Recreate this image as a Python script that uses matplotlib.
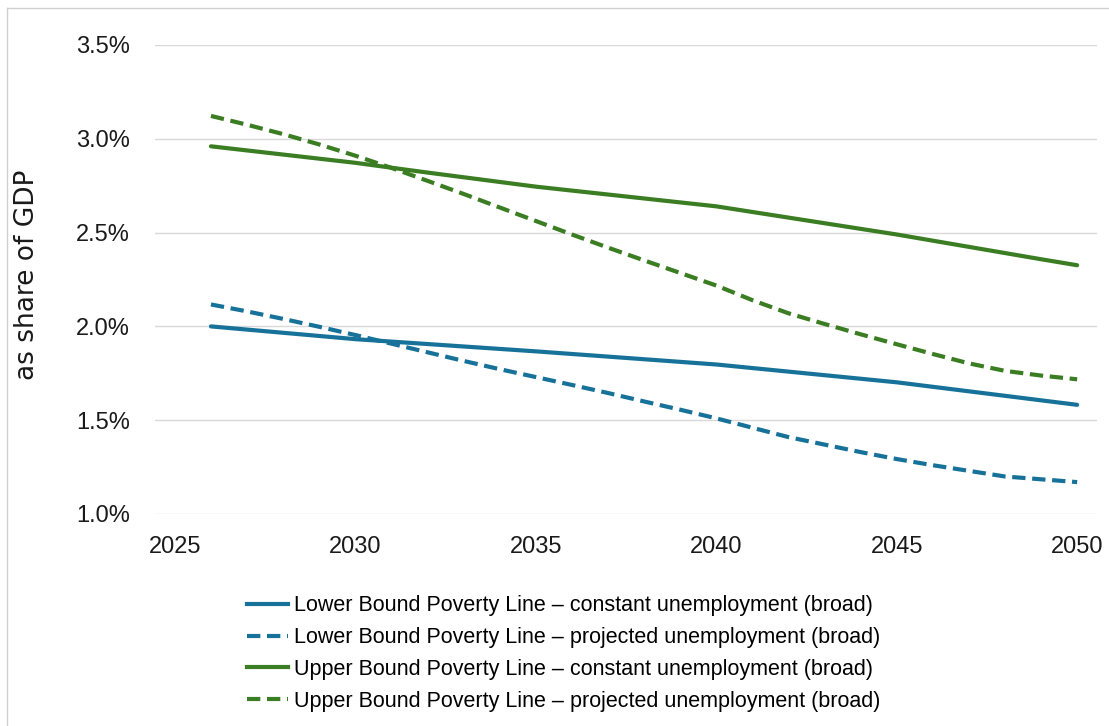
import matplotlib
matplotlib.use("Agg")
import matplotlib.pyplot as plt
from matplotlib.lines import Line2D

# data (% of GDP)
years = list(range(2026, 2051))
lower_const = [2.000, 1.983, 1.966, 1.949, 1.932, 1.919, 1.906, 1.893, 1.880, 1.867,
               1.853, 1.839, 1.825, 1.811, 1.797, 1.778, 1.759, 1.740, 1.721, 1.702,
               1.678, 1.654, 1.630, 1.606, 1.582]
lower_proj = [2.117, 2.080, 2.040, 1.998, 1.954, 1.908, 1.862, 1.816, 1.772, 1.730,
              1.688, 1.645, 1.600, 1.556, 1.510, 1.460, 1.410, 1.370, 1.330, 1.293,
              1.260, 1.230, 1.200, 1.185, 1.170]
upper_const = [2.960, 2.938, 2.916, 2.894, 2.872, 2.846, 2.820, 2.795, 2.770, 2.745,
               2.724, 2.703, 2.682, 2.661, 2.640, 2.610, 2.580, 2.550, 2.520, 2.490,
               2.457, 2.424, 2.391, 2.358, 2.326]
upper_proj = [3.122, 3.075, 3.025, 2.970, 2.910, 2.845, 2.776, 2.706, 2.634, 2.562,
              2.490, 2.420, 2.352, 2.285, 2.218, 2.140, 2.070, 2.013, 1.958, 1.905,
              1.853, 1.803, 1.763, 1.738, 1.718]

labels = [
    "Lower Bound Poverty Line \u2013 constant unemployment (broad)",
    "Lower Bound Poverty Line \u2013 projected unemployment (broad)",
    "Upper Bound Poverty Line \u2013 constant unemployment (broad)",
    "Upper Bound Poverty Line \u2013 projected unemployment (broad)",
]
xticks = [2025, 2030, 2035, 2040, 2045, 2050]
yticks = [1.0, 1.5, 2.0, 2.5, 3.0, 3.5]

blue = "#17729a"
green = "#3b7d23"
dash = (3.2, 1.6)

plt.rcParams['font.family'] = ['Liberation Sans', 'DejaVu Sans']

fig = plt.figure(figsize=(11.09, 7.26), dpi=100)
ax = fig.add_axes([155 / 1109, 1 - 514 / 726, 942 / 1109, 469 / 726])

ax.plot(years, lower_const, color=blue, lw=3, solid_capstyle='round')
ax.plot(years, lower_proj, color=blue, lw=3, dashes=dash)
ax.plot(years, upper_const, color=green, lw=3, solid_capstyle='round')
ax.plot(years, upper_proj, color=green, lw=3, dashes=dash)

ax.set_xlim(2024.45, 2050.55)
ax.set_ylim(1.0, 3.5)
ax.set_xticks(xticks)
ax.set_yticks(yticks)
ax.set_yticklabels([f"{v:.1f}%" for v in yticks])
ax.tick_params(length=0, labelsize=17, colors='#1a1a1a')
ax.tick_params(axis='y', pad=18)
ax.tick_params(axis='x', pad=16)
ax.grid(axis='y', color='#d9d9d9', lw=1)
ax.set_axisbelow(True)
for s in ax.spines.values():
    s.set_visible(False)

ax.set_ylabel("as share of GDP", fontsize=19, color='#1a1a1a', family='DejaVu Sans')
ax.yaxis.set_label_coords(-0.122, 0.51)

handles = [
    Line2D([], [], color=blue, lw=3),
    Line2D([], [], color=blue, lw=3, dashes=dash),
    Line2D([], [], color=green, lw=3),
    Line2D([], [], color=green, lw=3, dashes=dash),
]
fig.legend(handles, labels, loc='upper left',
           bbox_to_anchor=(228 / 1109, 1 - 576 / 726),
           frameon=False, handlelength=1.9, handletextpad=0.28,
           labelspacing=0.5,
           prop={'family': 'Liberation Sans', 'size': 15.5})

# light frame at the top and left edges, as in the source image
fig.add_artist(Line2D([7 / 1109, 1], [1 - 8 / 726] * 2, color='#d0d0d0', lw=1))
fig.add_artist(Line2D([7 / 1109] * 2, [0, 1 - 8 / 726], color='#d0d0d0', lw=1))

fig.savefig("out.png", dpi=100)
